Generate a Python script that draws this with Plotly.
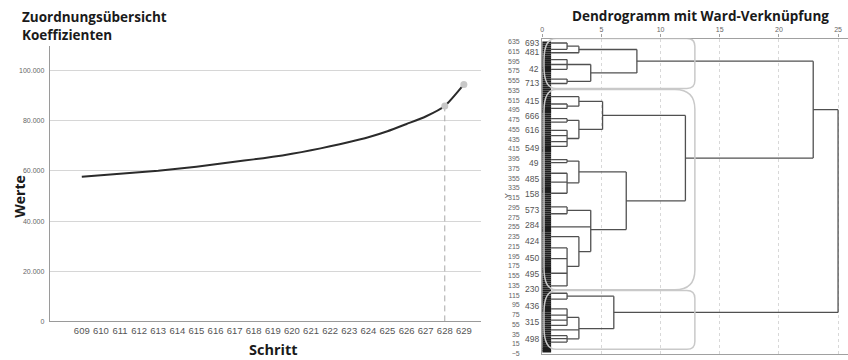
import plotly.graph_objects as go
import numpy as np

# ---------------- data: left chart (Zuordnungsübersicht) ----------------
steps = list(range(609, 630))
coeffs = [57650, 58300, 58900, 59500, 60100, 60900, 61700, 62650, 63650, 64600,
          65600, 66800, 68200, 69800, 71500, 73400, 75800, 78700, 81700, 85900, 94500]
highlight_steps = [628, 629]
cut_step = 628
value_ticks = [0, 20000, 40000, 60000, 80000, 100000]
value_tick_text = ["0", "20.000", "40.000", "60.000", "80.000", "100.000"]

# ---------------- data: dendrogram ----------------
distance_ticks = [0, 5, 10, 15, 20, 25]
case_ticks = list(range(-5, 636, 20))
leaf_labels = ["693", "481", "42", "713", "415", "666", "616", "549", "49", "485",
               "158", "573", "284", "424", "450", "495", "230", "436", "315", "498"]
leaf_label_pos = [631.5, 612.7, 579.5, 550.3, 513.7, 483.3, 452.8, 417.0, 385.8, 354.1,
                  322.1, 289.6, 259.7, 225.2, 191.5, 157.6, 127.1, 91.9, 59.4, 25.5]
n_cases = 636
leaf_edge = 0.75
# merge nodes: name -> (distance, children); numbers are leaf positions
merge_nodes = {
    "a1": (2.1, [632, 619]),
    "a2": (3.1, ["a1", 612]),
    "b1": (2.1, [598, 588, 578]),
    "b2": (2.1, [558, 549]),
    "b3": (4.1, ["b1", "b2"]),
    "c1": (8.0, ["a2", "b3"]),
    "d1": (2.1, [507, 498]),
    "d2": (3.1, [522, "d1"]),
    "e1": (2.1, [477, 470]),
    "e2": (2.1, [453, 442, 430, 420]),
    "e3": (3.1, ["e1", "e2"]),
    "f": (5.1, ["d2", "e3"]),
    "g1": (2.1, [393, 387]),
    "g2": (2.1, [365, 347, 324]),
    "g3": (3.1, ["g1", "g2"]),
    "h1": (2.1, [296, 282]),
    "i1": (2.1, [212, 190, 160, 134]),
    "i2": (3.1, [235, "i1"]),
    "h2": (4.1, ["h1", 255, "i2"]),
    "k": (7.1, ["g3", "h2"]),
    "c2": (12.1, ["f", "k"]),
    "j1": (2.1, [119, 107]),
    "j2": (2.1, [87, 74, 64, 53]),
    "j3": (2.1, [32, 26, 19]),
    "j4": (3.1, ["j2", 44, "j3"]),
    "c3": (6.05, ["j1", "j4"]),
    "top": (22.9, ["c1", "c2"]),
    "root": (25.0, ["top", "c3"]),
}
root_node = "root"
cluster_bounds = [(641.5, 538.9), (536.9, 126.0), (124.4, 4.0)]
cluster_cut = 12.9

# ---------------- build figure ----------------
fig = go.Figure()

# left chart line
fig.add_trace(go.Scatter(
    x=steps, y=coeffs, mode="lines",
    line=dict(color="#2b2b2b", width=2, shape="spline", smoothing=0.6),
    xaxis="x", yaxis="y", hoverinfo="skip", showlegend=False))
# dashed cut line
cut_val = coeffs[steps.index(cut_step)]
fig.add_trace(go.Scatter(
    x=[cut_step, cut_step], y=[0, cut_val], mode="lines",
    line=dict(color="#aaaaaa", width=1, dash="6px,4px"),
    xaxis="x", yaxis="y", hoverinfo="skip", showlegend=False))
# highlight markers
fig.add_trace(go.Scatter(
    x=highlight_steps, y=[coeffs[steps.index(s)] for s in highlight_steps],
    mode="markers", marker=dict(color="#c8c8c8", size=7),
    xaxis="x", yaxis="y", hoverinfo="skip", showlegend=False))

# dendrogram segments
seg_x, seg_y = [], []


def node_y(name):
    h, children = merge_nodes[name]
    ys = []
    for c in children:
        if isinstance(c, str):
            cy = node_y(c)
            cx = merge_nodes[c][0]
        else:
            cy = c
            cx = leaf_edge
        seg_x.extend([cx, h, None])
        seg_y.extend([cy, cy, None])
        ys.append(cy)
    seg_x.extend([h, h, None])
    seg_y.extend([min(ys), max(ys), None])
    return sum(ys) / len(ys)


node_y(root_node)

# black leaf bar
case_pos = np.arange(1, n_cases + 1, 4)
fig.add_trace(go.Bar(
    x=[leaf_edge] * len(case_pos), y=case_pos, orientation="h", width=3.2,
    marker=dict(color="#1e1e1e", line=dict(width=0)),
    xaxis="x2", yaxis="y2", hoverinfo="skip", showlegend=False))

fig.add_trace(go.Scatter(
    x=seg_x, y=seg_y, mode="lines",
    line=dict(color="#505050", width=1.3),
    xaxis="x2", yaxis="y2", hoverinfo="skip", showlegend=False))

# rounded cluster boxes
px_per_x = 11.86
units_per_py = 2.027


def rounded_path(x0, x1, yt, yb, rl, rr):
    rlx, rly = rl[0] / px_per_x, rl[1] * units_per_py
    rrx, rry = rr / px_per_x, rr * units_per_py
    return (f"M {x0 + rlx},{yt} L {x1 - rrx},{yt} Q {x1},{yt} {x1},{yt - rry} "
            f"L {x1},{yb + rry} Q {x1},{yb} {x1 - rrx},{yb} "
            f"L {x0 + rlx},{yb} Q {x0},{yb} {x0},{yb + rly} "
            f"L {x0},{yt - rly} Q {x0},{yt} {x0 + rlx},{yt} Z")


right_radii = [8, 20, 8]
shapes = []
for (yt, yb), rr in zip(cluster_bounds, right_radii):
    shapes.append(dict(
        type="path", xref="x2", yref="y2",
        path=rounded_path(0.15, cluster_cut, yt, yb, (12, 22), rr),
        line=dict(color="#c9c9c9", width=1.5), layer="above"))

annotations = []
for lab, pos in zip(leaf_labels, leaf_label_pos):
    annotations.append(dict(
        x=0, y=pos, xref="x2", yref="y2", text=lab, showarrow=False,
        xanchor="right", yanchor="middle", xshift=-1,
        font=dict(family="Liberation Sans, Arial", size=8.5, color="#555555")))

title_font = "Open Sans, Noto Sans, sans-serif"
annotations += [
    dict(x=18 / 848, y=1 - 5 / 360, xref="paper", yref="paper",
         text="<b>Zuordnungsübersicht<br>Koeffizienten</b>", showarrow=False,
         xanchor="left", yanchor="top", align="left",
         font=dict(family=title_font, size=13.5, color="#1a1a1a")),
    dict(x=700 / 848, y=1 - 15 / 360, xref="paper", yref="paper",
         text="<b>Dendrogramm mit Ward-Verknüpfung</b>", showarrow=False,
         xanchor="center", yanchor="middle",
         font=dict(family=title_font, size=13.5, color="#1a1a1a")),
    dict(x=272.5 / 848, y=1 - 352 / 360, xref="paper", yref="paper",
         text="<b>Schritt</b>", showarrow=False,
         xanchor="center", yanchor="middle",
         font=dict(family=title_font, size=14.5, color="#1a1a1a")),
    dict(x=18 / 848, y=1 - 197 / 360, xref="paper", yref="paper",
         text="<b>Werte</b>", showarrow=False, textangle=-90,
         xanchor="center", yanchor="middle",
         font=dict(family=title_font, size=14, color="#1a1a1a")),
    dict(x=507 / 848, y=1 - 197 / 360, xref="paper", yref="paper",
         text="Y", showarrow=False, textangle=-90,
         xanchor="center", yanchor="middle",
         font=dict(family="Liberation Sans, Arial", size=8, color="#555555")),
]

fig.update_layout(
    width=848, height=360,
    margin=dict(l=0, r=0, t=0, b=0),
    paper_bgcolor="white", plot_bgcolor="white",
    showlegend=False, barmode="overlay",
    shapes=shapes, annotations=annotations,
    xaxis=dict(domain=[48 / 848, 480 / 848], range=[607.33, 629.89],
               tickvals=steps, ticktext=[str(s) for s in steps],
               showgrid=False, zeroline=False, showline=True,
               linecolor="#9a9a9a", linewidth=1.2, ticks="",
               tickfont=dict(family="Liberation Sans, Arial", size=9.5, color="#555555"),
               anchor="y"),
    yaxis=dict(domain=[36 / 360, 315 / 360], range=[0, 110000],
               tickvals=value_ticks, ticktext=value_tick_text,
               showgrid=True, gridcolor="#d6d6d6", gridwidth=1,
               zeroline=False, showline=True, linecolor="#9a9a9a", linewidth=1.2,
               ticks="", ticklabelstandoff=3,
               tickfont=dict(family="Liberation Sans, Arial", size=7, color="#666666"),
               anchor="x"),
    xaxis2=dict(domain=[541.5 / 848, 1.0], range=[0, 25.84], side="top",
                tickvals=distance_ticks, showgrid=True, gridcolor="#d8d8d8",
                griddash="3px,3px", gridwidth=1, zeroline=False,
                showline=True, mirror=True, linecolor="#a0a0a0", linewidth=1.2,
                ticks="outside", ticklen=3, tickcolor="#a0a0a0",
                tickfont=dict(family="Liberation Sans, Arial", size=7, color="#666666"),
                anchor="y2"),
    yaxis2=dict(domain=[3 / 360, 322 / 360], range=[-5.6, 641.1],
                tickvals=case_ticks, showgrid=False, zeroline=False,
                showline=True, linecolor="#a0a0a0", linewidth=1.2,
                ticks="", ticklabelstandoff=20,
                tickfont=dict(family="Liberation Sans, Arial", size=7, color="#666666"),
                anchor="x2"),
)

fig.write_html("out.html")
